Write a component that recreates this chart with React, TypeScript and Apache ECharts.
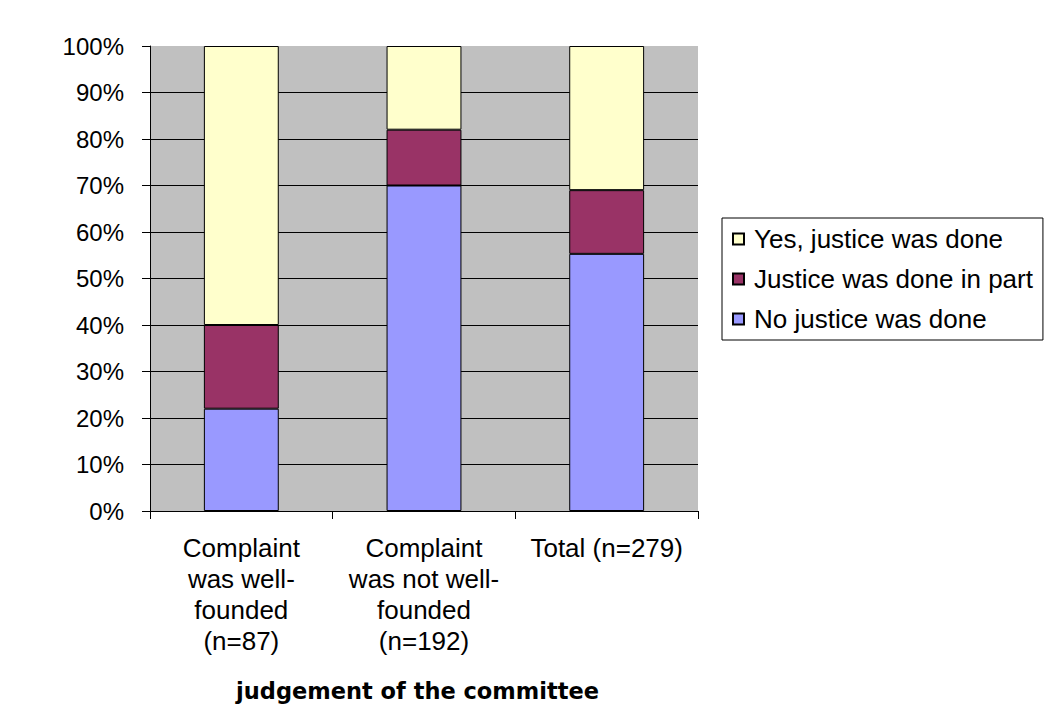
import React, { useEffect, useRef } from "react";
import * as echarts from "echarts";

const categories = [
  "Complaint\nwas well-\nfounded\n(n=87)",
  "Complaint\nwas not well-\nfounded\n(n=192)",
  "Total (n=279)",
];
const noJustice = [22, 70, 55.3];
const partJustice = [18, 12, 13.7];
const yesJustice = [60, 18, 31];
const seriesNames = ["No justice was done", "Justice was done in part", "Yes, justice was done"];
const legendOrder = ["Yes, justice was done", "Justice was done in part", "No justice was done"];
const xAxisTitle = "judgement of the committee";

export default function App() {
  const ref = useRef<HTMLDivElement>(null);
  useEffect(() => {
    document.body.style.margin = "0";
    if (!ref.current) return;
    const chart = echarts.init(ref.current, null, { renderer: "svg" });
    const font = "'Liberation Sans', Arial, sans-serif";
    const mk = (name: string, data: number[], color: string) => ({
      name,
      type: "bar",
      stack: "all",
      data,
      barCategoryGap: "59%",
      itemStyle: { color, borderColor: "#000", borderWidth: 1 },
    });
    chart.setOption({
      animation: false,
      backgroundColor: "#fff",
      grid: {
        left: 150,
        right: 347,
        top: 46,
        bottom: 202,
        show: true,
        backgroundColor: "#C0C0C0",
        borderWidth: 0,
      },
      legend: {
        data: legendOrder,
        orient: "vertical",
        left: 722,
        top: 218,
        backgroundColor: "#fff",
        borderColor: "#000",
        borderWidth: 1,
        borderRadius: 0,
        padding: [8, 10, 8, 10],
        itemGap: 14,
        itemWidth: 11,
        itemHeight: 11,
        icon: "rect",
        textStyle: { fontFamily: font, fontSize: 26, color: "#000", padding: [0, 0, 0, 5] },
      },
      xAxis: {
        type: "category",
        data: categories,
        name: xAxisTitle,
        nameLocation: "middle",
        nameGap: 168,
        nameTextStyle: {
          fontFamily: "'DejaVu Sans', Verdana, sans-serif",
          fontWeight: "bold",
          fontSize: 22.5,
          color: "#000",
          padding: [0, 13, 0, 0],
        },
        axisLine: { lineStyle: { color: "#000", width: 1 } },
        axisTick: { show: true, length: 8, lineStyle: { color: "#000" } },
        axisLabel: {
          fontFamily: font,
          fontSize: 26,
          color: "#000",
          lineHeight: 31,
          margin: 21,
          interval: 0,
        },
      },
      yAxis: {
        type: "value",
        min: 0,
        max: 100,
        interval: 10,
        axisLine: { show: true, lineStyle: { color: "#000", width: 1 } },
        axisTick: { show: true, length: 8, lineStyle: { color: "#000" } },
        axisLabel: {
          formatter: "{value}%",
          fontFamily: font,
          fontSize: 24,
          color: "#000",
          margin: 26,
        },
        splitLine: { show: true, showMaxLine: false, lineStyle: { color: "#000", width: 1 } },
      },
      series: [
        mk(seriesNames[0], noJustice, "#9999FF"),
        mk(seriesNames[1], partJustice, "#993366"),
        mk(seriesNames[2], yesJustice, "#FFFFCC"),
      ],
    });
    return () => chart.dispose();
  }, []);
  return <div ref={ref} style={{ width: 1045, height: 713 }} />;
}
